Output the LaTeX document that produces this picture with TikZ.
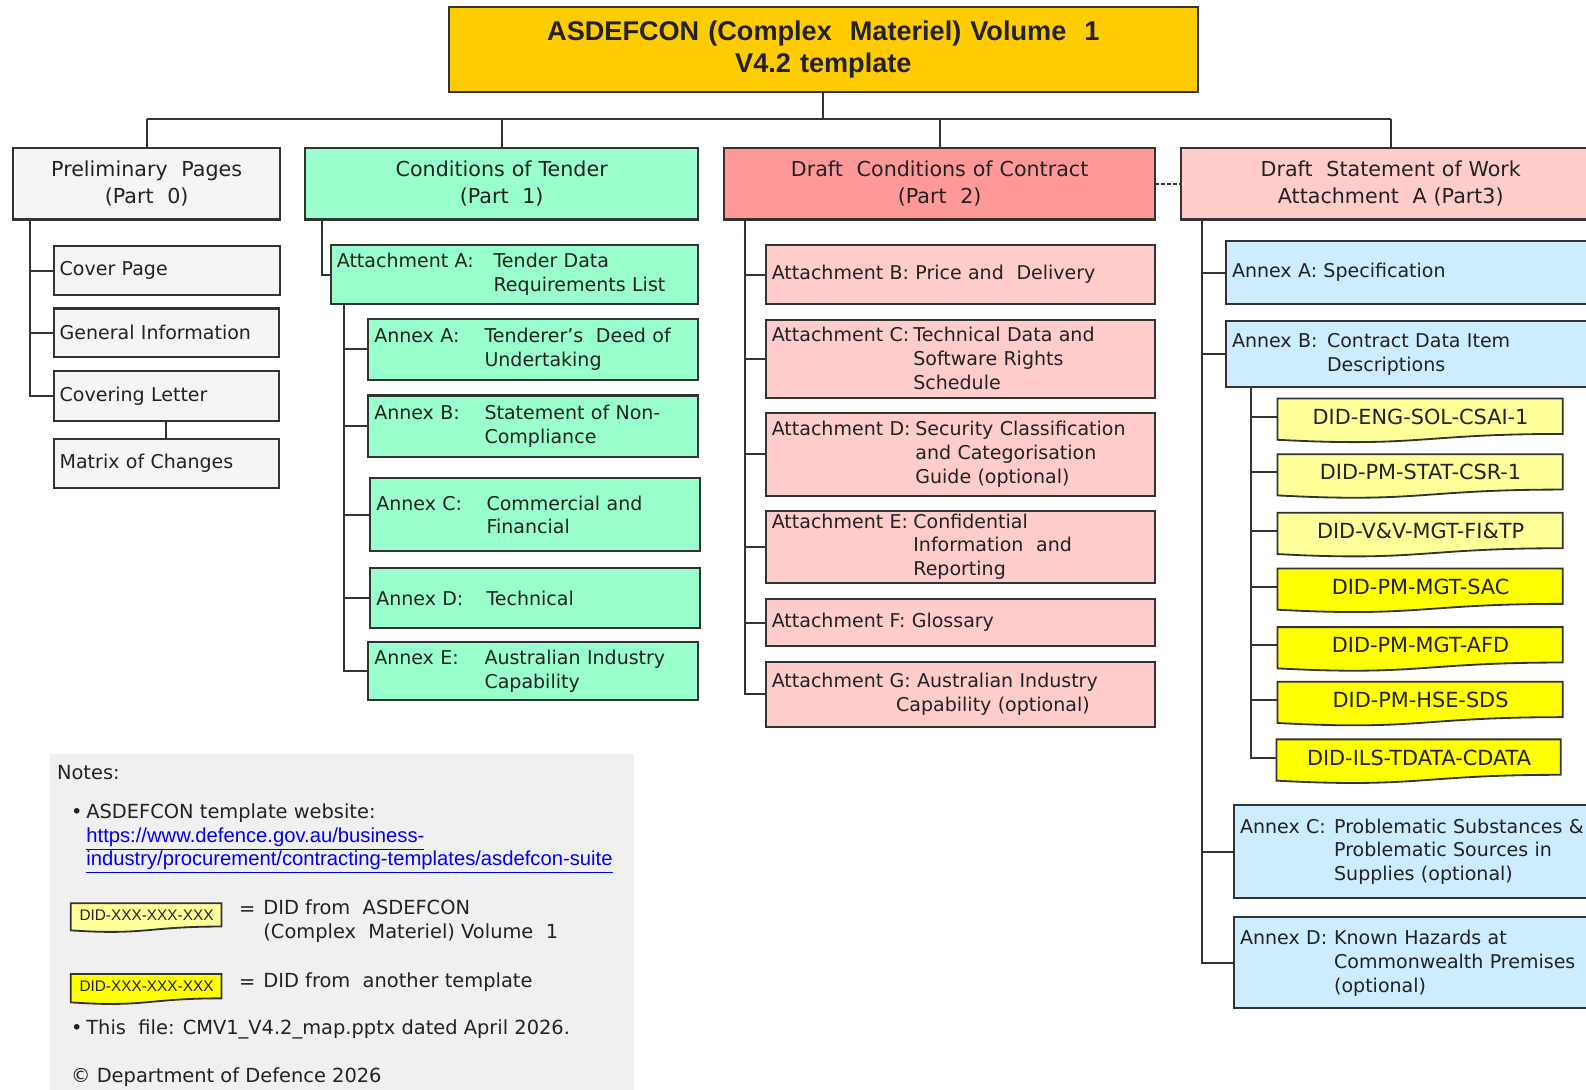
\documentclass[tikz,border=0pt]{standalone}
\usepackage{fontspec}
\setmainfont{DejaVu Sans}
\newfontfamily\libfont{Liberation Sans}
\usetikzlibrary{calc}
\definecolor{txt}{HTML}{222222}
\definecolor{ln}{HTML}{333333}
\definecolor{cgold}{HTML}{FFCC00}
\definecolor{cgray}{HTML}{F5F5F5}
\definecolor{cgreen}{HTML}{99FFCC}
\definecolor{cred}{HTML}{FF9999}
\definecolor{cpink}{HTML}{FFCCCC}
\definecolor{cblue}{HTML}{CCECFF}
\definecolor{cyl}{HTML}{FFFF99}
\definecolor{cyd}{HTML}{FFFF00}
\definecolor{cnote}{HTML}{F0F0F0}
\definecolor{clink}{HTML}{0000EE}

\newcommand\boxat[8]{%
 \pgfmathsetmacro\myBW{(#5-#3)/2}%
 \pgfmathsetmacro\myBH{(#6-#4)/2}%
 \pgfmathsetmacro\myTW{(#5-#3)/2-6}%
 \node[#2, anchor=north west, minimum width=\myBW pt, minimum height=\myBH pt, text width=\myTW pt, align=#7] (#1) at (#3,#4) {#8};}

\newcommand\didat[8]{%
 \pgfmathsetmacro\myDM{(#3+#5)/2}%
 \pgfmathsetmacro\myDL{#6+0.165*(#6-#4)}%
 \pgfmathsetmacro\myDC{#6+0.38*(#6-#4)}%
 \pgfmathsetmacro\myBW{(#5-#3)/2}%
 \pgfmathsetmacro\myBH{(#6-#4)/2}%
 \draw[didline, fill=#7] (#3,#4) -- (#5,#4) -- (#5,#6) .. controls (\myDM,#6) and (\myDM,\myDC) .. (#3,\myDL) -- cycle;
 \node[#2, anchor=north west, minimum width=\myBW pt, minimum height=\myBH pt, inner sep=0pt] (#1) at (#3,#4) {#8};}

\newcommand\hng[2]{\makebox[#1][l]{#2}}

\tikzset{
 bbox/.style={draw=ln, line width=1pt, inner xsep=3pt, inner ysep=0pt, outer sep=0pt, text=txt, font=\fontsize{9.4}{11.8}\selectfont},
 topbox/.style={bbox, font=\fontsize{10.2}{13.5}\selectfont},
 titlebox/.style={bbox, fill=cgold, font=\libfont\bfseries\fontsize{13.4}{15.5}\selectfont},
 conn/.style={draw=ln, line width=1pt},
 didline/.style={draw=ln, line width=0.9pt},
 didtxt/.style={text=txt, font=\fontsize{10.3}{12}\selectfont},
 legtxt/.style={text=txt, font=\libfont\fontsize{7.6}{9}\selectfont},
 note/.style={text=txt, font=\fontsize{9.6}{11.5}\selectfont, anchor=base west, inner sep=0pt},
 linktxt/.style={note, text=clink, font=\libfont\fontsize{10}{12}\selectfont},
}

\begin{document}
\begin{tikzpicture}[x=0.5pt,y=-0.5pt]
\path[use as bounding box, clip] (0,0) rectangle (1568,1077);
\fill[white] (0,0) rectangle (1568,1077);

% notes panel
\fill[cnote] (49,745) rectangle (627,1090);

% title and parts
\boxat{title}{titlebox}{444}{7}{1184}{91}{center}{ASDEFCON (Complex\ \ Materiel) Volume\ \ 1\\V4.2 template}
\boxat{p0}{topbox,fill=cgray}{13}{146}{277}{217}{center}{Preliminary\ \ Pages\\(Part\ \ 0)}
\boxat{p1}{topbox,fill=cgreen}{302}{146}{690}{217}{center}{Conditions of Tender\\(Part\ \ 1)}
\boxat{p2}{topbox,fill=cred}{716}{146}{1142}{217}{center}{Draft\ \ Conditions of Contract\\(Part\ \ 2)}
\boxat{p3}{topbox,fill=cpink}{1168}{146}{1582}{217}{center}{Draft\ \ Statement of Work\\Attachment\ \ A (Part3)}

% Part 0 children
\boxat{cp}{bbox,fill=cgray}{53}{243}{277}{292}{left}{Cover Page}
\boxat{gi}{bbox,fill=cgray}{53}{305}{276}{353}{left}{General Information}
\boxat{cl}{bbox,fill=cgray}{53}{367}{276}{416}{left}{Covering Letter}
\boxat{mc}{bbox,fill=cgray}{53}{434}{276}{482}{left}{Matrix of Changes}

% Part 1 children
\boxat{ta}{bbox,fill=cgreen}{327}{242}{690}{301}{left}{\hng{77.5pt}{Attachment A:}Tender Data\\\hspace*{77.5pt}Requirements List}
\boxat{a1}{bbox,fill=cgreen}{364}{315}{690}{376}{left}{\hng{54.5pt}{Annex A:}Tenderer’s\ \ Deed of\\\hspace*{54.5pt}Undertaking}
\boxat{a2}{bbox,fill=cgreen}{364}{391}{690}{452}{left}{\hng{54.5pt}{Annex B:}Statement of Non-\\\hspace*{54.5pt}Compliance}
\boxat{a3}{bbox,fill=cgreen}{366}{473}{692}{545}{left}{\hng{54.5pt}{Annex C:}Commercial and\\\hspace*{54.5pt}Financial}
\boxat{a4}{bbox,fill=cgreen}{366}{562}{692}{621}{left}{\hng{54.5pt}{Annex D:}Technical}
\boxat{a5}{bbox,fill=cgreen}{364}{635}{690}{692}{left}{\hng{54.5pt}{Annex E:}Australian Industry\\\hspace*{54.5pt}Capability}

% Part 2 children
\boxat{ab}{bbox,fill=cpink}{757}{242}{1142}{301}{left}{Attachment B: Price and\ \ Delivery}
\boxat{ac}{bbox,fill=cpink}{757}{316}{1142}{393}{left}{\hng{70pt}{Attachment C:}Technical Data and\\\hspace*{70pt}Software Rights\\\hspace*{70pt}Schedule}
\boxat{ad}{bbox,fill=cpink}{757}{408}{1142}{490}{left}{\hng{71pt}{Attachment D:}Security Classification\\\hspace*{71pt}and Categorisation\\\hspace*{71pt}Guide (optional)}
\boxat{ae}{bbox,fill=cpink}{757}{505}{1142}{576}{left}{\hng{70pt}{Attachment E:}Confidential\\\hspace*{70pt}Information\ \ and\\\hspace*{70pt}Reporting}
\boxat{af}{bbox,fill=cpink}{757}{592}{1142}{639}{left}{Attachment F: Glossary}
\boxat{ag}{bbox,fill=cpink}{757}{654}{1142}{719}{left}{Attachment G: Australian Industry\\\hspace*{61.5pt}Capability (optional)}

% Part 3 children
\boxat{sa}{bbox,fill=cblue}{1212}{238}{1590}{301}{left}{Annex A: Specification}
\boxat{sb}{bbox,fill=cblue}{1212}{317}{1590}{383}{left}{\hng{47pt}{Annex B:}Contract Data Item\\\hspace*{47pt}Descriptions}
\boxat{sc}{bbox,fill=cblue}{1220}{796}{1590}{888}{left}{\hng{46.5pt}{Annex C:}Problematic Substances \&\\\hspace*{46.5pt}Problematic Sources in\\\hspace*{46.5pt}Supplies (optional)}
\boxat{sd}{bbox,fill=cblue}{1220}{907}{1590}{997}{left}{\hng{46.5pt}{Annex D:}Known Hazards at\\\hspace*{46.5pt}Commonwealth Premises\\\hspace*{46.5pt}(optional)}

% DIDs
\didat{d1}{didtxt}{1263}{394}{1545}{429}{cyl}{DID-ENG-SOL-CSAI-1}
\didat{d2}{didtxt}{1263}{449}{1545}{484}{cyl}{DID-PM-STAT-CSR-1}
\didat{d3}{didtxt}{1263}{507}{1545}{542}{cyl}{DID-V\&V-MGT-FI\&TP}
\didat{d4}{didtxt}{1263}{562}{1545}{597}{cyd}{DID-PM-MGT-SAC}
\didat{d5}{didtxt}{1263}{620}{1545}{655}{cyd}{DID-PM-MGT-AFD}
\didat{d6}{didtxt}{1263}{674}{1545}{709}{cyd}{DID-PM-HSE-SDS}
\didat{d7}{didtxt}{1262}{731}{1543}{766}{cyd}{DID-ILS-TDATA-CDATA}

% connectors: top
\coordinate (bus) at (813,118);
\draw[conn] (title.south) -- (title.south |- bus);
\draw[conn] (bus -| p0.north) -- (bus -| p3.north);
\draw[conn] (bus -| p0.north) -- (p0.north);
\draw[conn] (bus -| p1.north) -- (p1.north);
\draw[conn] (bus -| p2.north) -- (p2.north);
\draw[conn] (bus -| p3.north) -- (p3.north);
\draw[conn, dash pattern=on 2pt off 1pt] (p2.east) -- (p3.west);

% Part 0
\coordinate (s0) at ([xshift=8.5pt]p0.south west);
\draw[conn] (s0) |- (cl.west);
\draw[conn] (cp.west) -- (cp.west -| s0);
\draw[conn] (gi.west) -- (gi.west -| s0);
\draw[conn] (cl.south) -- (mc.north);

% Part 1
\draw[conn] ([xshift=8pt]p1.south west) |- (ta.west);
\coordinate (s1) at ([xshift=6.5pt]ta.south west);
\draw[conn] (s1) |- (a5.west);
\foreach \n in {a1,a2,a3,a4} \draw[conn] (\n.west) -- (\n.west -| s1);

% Part 2
\coordinate (s2) at ([xshift=10.5pt]p2.south west);
\draw[conn] (s2) |- (ag.west);
\foreach \n in {ab,ac,ad,ae,af} \draw[conn] (\n.west) -- (\n.west -| s2);

% Part 3
\coordinate (s3) at ([xshift=10pt]p3.south west);
\draw[conn] (s3) |- (sd.west);
\foreach \n in {sa,sb,sc} \draw[conn] (\n.west) -- (\n.west -| s3);

% DIDs
\coordinate (s4) at ([xshift=12.5pt]sb.south west);
\draw[conn] (s4) |- (d7.west);
\foreach \n in {d1,d2,d3,d4,d5,d6} \draw[conn] (\n.west) -- (\n.west -| s4);

% notes
\node[note] (n0) at (56,771) {Notes:};
\node[note] (n1) at (70,809) {\hng{7.5pt}{•}ASDEFCON template website:};
\node[linktxt] (n2) at (85,833) {\underline{https://www.defence.gov.au/business-}};
\node[linktxt] (n3) at (85,856) {\underline{industry/procurement/contracting-templates/asdefcon-suite}};
\didat{l1}{legtxt}{70}{893}{219}{916}{cyl}{DID-XXX-XXX-XXX}
\didat{l2}{legtxt}{70}{963}{219}{987}{cyd}{DID-XXX-XXX-XXX}
\node[note] (n4) at (236,905) {=};
\node[note] (n5) at (260,904) {DID from\ \ ASDEFCON};
\node[note] (n6) at (260,928) {(Complex\ \ Materiel) Volume\ \ 1};
\node[note] (n7) at (236,977) {=};
\node[note] (n8) at (260,976) {DID from\ \ another template};
\node[note] (n9) at (70,1023) {\hng{7.5pt}{•}This\ \ file: CMV1\_V4.2\_map.pptx dated April 2026.};
\node[note] (n10) at (70,1070) {© Department of Defence 2026};
\end{tikzpicture}
\end{document}
